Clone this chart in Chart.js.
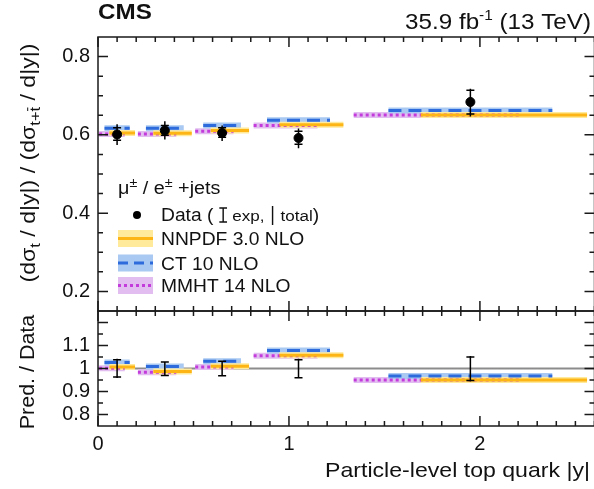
<!DOCTYPE html>
<html><head><meta charset="utf-8">
<script src="https://cdn.jsdelivr.net/npm/chart.js@4.4.0/dist/chart.umd.min.js"></script>
<style>
html,body{margin:0;padding:0;background:#fff;overflow:hidden;}
#wrap{position:relative;width:600px;height:489px;}
</style></head><body>
<div id="wrap"><canvas id="c"></canvas></div>
<script>
// ---------------- data ----------------
const binEdges   = [0, 0.2, 0.5, 0.8, 1.3, 2.6];
const binCenters = [0.1, 0.35, 0.65, 1.05, 1.95];

const dataVal   = [0.601, 0.611, 0.605, 0.592, 0.684];
const dataExpLo = [0.586, 0.599, 0.594, 0.576, 0.653];
const dataExpHi = [0.618, 0.624, 0.618, 0.609, 0.714];
const dataTotLo = [0.574, 0.588, 0.584, 0.566, 0.647];
const dataTotHi = [0.627, 0.635, 0.624, 0.616, 0.718];

const nnpdf = [0.605, 0.604, 0.611, 0.626, 0.651];
const ct10  = [0.617, 0.617, 0.624, 0.637, 0.662];
const mmht  = [0.602, 0.602, 0.609, 0.624, 0.651];

const ratioNnpdf = [1.007, 0.987, 1.010, 1.058, 0.950];
const ratioCt10  = [1.026, 1.009, 1.031, 1.078, 0.967];
const ratioMmht  = [1.001, 0.984, 1.007, 1.055, 0.950];

const ratioTotLo = [0.959, 0.966, 0.966, 0.956, 0.944];
const ratioTotHi = [1.042, 1.032, 1.035, 1.042, 1.054];
const ratioExpLo = [0.963, 0.970, 0.969, 0.960, 0.948];
const ratioExpHi = [1.038, 1.028, 1.032, 1.038, 1.050];

const xTicks      = [0, 1, 2];
const yMainTicks  = [0.2, 0.4, 0.6, 0.8];
const yRatioTicks = [0.8, 0.9, 1, 1.1];

// ---------------- style ----------------
const FONT = '"Liberation Sans", Arial, Helvetica, sans-serif';
const SX = 1.1; // horizontal text stretch of the reference
const COL = {
  nnpdf: {line: '#FDB515', band: '#FFE99A'},
  ct10:  {line: '#2D6BDC', band: '#A9C9F2'},
  mmht:  {line: '#C43BDB', band: '#E1BDF0'}
};
const segFrac = { mmht: [0.03, 0.70], ct10: [0.17, 0.83], nnpdf: [0.30, 0.97] };

function segments(values, frac) {
  const pts = [];
  values.forEach((v, i) => {
    const lo = binEdges[i], w = binEdges[i + 1] - lo;
    pts.push({x: lo + frac[0] * w, y: v}, {x: lo + frac[1] * w, y: v}, {x: lo + frac[1] * w, y: null});
  });
  return pts;
}
function segDs(values, frac, axis, color, width, dash, order) {
  return {type: 'line', data: segments(values, frac), yAxisID: axis, borderColor: color,
    borderWidth: width, borderDash: dash, pointRadius: 0, fill: false, spanGaps: false,
    order: order, borderCapStyle: 'butt', tension: 0};
}

const datasets = [
  {type: 'scatter', data: binCenters.map((x, i) => ({x: x, y: dataVal[i]})), yAxisID: 'y',
   pointRadius: 4.5, pointBackgroundColor: '#000', pointBorderColor: '#000', order: 0},
  // top panel
  segDs(nnpdf, segFrac.nnpdf, 'y', COL.nnpdf.line, 3, [], 1),
  segDs(ct10,  segFrac.ct10,  'y', COL.ct10.line, 3, [13, 7], 2),
  segDs(mmht,  segFrac.mmht,  'y', COL.mmht.line, 3, [3, 3], 3),
  segDs(nnpdf, segFrac.nnpdf, 'y', COL.nnpdf.band, 6, [], 4),
  segDs(ct10,  segFrac.ct10,  'y', COL.ct10.band, 6, [], 5),
  segDs(mmht,  segFrac.mmht,  'y', COL.mmht.band, 6, [], 6),
  // ratio panel
  segDs(ratioNnpdf, segFrac.nnpdf, 'yR', COL.nnpdf.line, 3, [], 1),
  segDs(ratioCt10,  segFrac.ct10,  'yR', COL.ct10.line, 3, [13, 7], 2),
  segDs(ratioMmht,  segFrac.mmht,  'yR', COL.mmht.line, 3, [3, 3], 3),
  segDs(ratioNnpdf, segFrac.nnpdf, 'yR', COL.nnpdf.band, 6, [], 4),
  segDs(ratioCt10,  segFrac.ct10,  'yR', COL.ct10.band, 6, [], 5),
  segDs(ratioMmht,  segFrac.mmht,  'yR', COL.mmht.band, 6, [], 6),
  {type: 'line', data: [{x: 0, y: 1}, {x: 2.6, y: 1}], yAxisID: 'yR', borderColor: '#8c8c8c',
   borderWidth: 2, pointRadius: 0, fill: false, order: 10}
];

// ---------------- helpers ----------------
function fnt(p) { return (p.bold ? 'bold ' : '') + p.size + 'px ' + FONT; }
function drawRich(ctx, parts, x, y, align, rot) {
  let w = 0;
  parts.forEach(p => {
    if (p.t !== undefined) { ctx.font = fnt(p); p.w = ctx.measureText(p.t).width; }
    w += p.w;
  });
  ctx.save();
  ctx.translate(x, y);
  if (rot) ctx.rotate(rot);
  ctx.scale(SX, 1);
  ctx.fillStyle = '#111'; ctx.strokeStyle = '#111'; ctx.textBaseline = 'alphabetic';
  let cx = align === 'right' ? -w : (align === 'center' ? -w / 2 : 0);
  parts.forEach(p => {
    const dy = p.dy || 0;
    if (p.t !== undefined) {
      ctx.font = fnt(p); ctx.fillText(p.t, cx, dy);
      if (p.bar) { ctx.lineWidth = 1; ctx.beginPath(); ctx.moveTo(cx + 0.5, dy - p.size * 0.82); ctx.lineTo(cx + p.w - 0.5, dy - p.size * 0.82); ctx.stroke(); }
    } else if (p.icon === 'ibeam') {
      ctx.lineWidth = 1.3; ctx.beginPath();
      const m = cx + p.w / 2;
      ctx.moveTo(m, -13); ctx.lineTo(m, 1);
      ctx.moveTo(m - 3.5, -13); ctx.lineTo(m + 3.5, -13);
      ctx.moveTo(m - 3.5, 1); ctx.lineTo(m + 3.5, 1);
      ctx.stroke();
    } else if (p.icon === 'vbar') {
      ctx.lineWidth = 1.3; ctx.beginPath();
      const m = cx + p.w / 2;
      ctx.moveTo(m, -15); ctx.lineTo(m, 4); ctx.stroke();
    }
    cx += p.w;
  });
  ctx.restore();
}

// ---------------- plugins ----------------
const frameTicks = {
  id: 'frameTicks',
  afterDraw(chart) {
    const ctx = chart.ctx, xs = chart.scales.x;
    const L = xs.left, R = xs.right;
    ctx.save();
    ctx.strokeStyle = '#1a1a1a'; ctx.lineWidth = 1.5;
    const panels = [
      {s: chart.scales.y, step: 0.05, majorEvery: 4},
      {s: chart.scales.yR, step: 0.05, majorEvery: 2}
    ];
    panels.forEach(pn => {
      const s = pn.s, T = s.top, B = s.bottom;
      ctx.strokeRect(L, T, R - L, B - T);
      ctx.beginPath();
      const k0 = Math.ceil(s.min / pn.step - 1e-6), k1 = Math.floor(s.max / pn.step + 1e-6);
      for (let k = k0; k <= k1; k++) {
        const py = s.getPixelForValue(k * pn.step);
        if (py <= T + 0.5 || py >= B - 0.5) continue;
        const len = (k % pn.majorEvery === 0) ? 10 : 5;
        ctx.moveTo(L, py); ctx.lineTo(L + len, py);
        ctx.moveTo(R, py); ctx.lineTo(R - len, py);
      }
      for (let k = 0; k <= 26; k++) {
        const px = xs.getPixelForValue(k * 0.1);
        const len = (k % 10 === 0) ? 10 : 5;
        ctx.moveTo(px, T); ctx.lineTo(px, T + len);
        ctx.moveTo(px, B); ctx.lineTo(px, B - len);
      }
      ctx.stroke();
    });
    ctx.restore();
  }
};

const errorBars = {
  id: 'errorBars',
  afterDatasetsDraw(chart) {
    const ctx = chart.ctx, xs = chart.scales.x;
    ctx.save();
    ctx.strokeStyle = '#000'; ctx.lineWidth = 1.5;
    const draw = (s, tlo, thi, elo, ehi) => {
      ctx.beginPath();
      binCenters.forEach((c, i) => {
        const px = xs.getPixelForValue(c);
        ctx.moveTo(px, s.getPixelForValue(tlo[i])); ctx.lineTo(px, s.getPixelForValue(thi[i]));
        [elo[i], ehi[i]].forEach(v => { const py = s.getPixelForValue(v); ctx.moveTo(px - 4, py); ctx.lineTo(px + 4, py); });
      });
      ctx.stroke();
    };
    draw(chart.scales.y, dataTotLo, dataTotHi, dataExpLo, dataExpHi);
    draw(chart.scales.yR, ratioTotLo, ratioTotHi, ratioExpLo, ratioExpHi);
    ctx.restore();
  }
};

const texts = {
  id: 'texts',
  afterDraw(chart) {
    const ctx = chart.ctx;
    // header
    drawRich(ctx, [{t: 'CMS', size: 22, bold: true}], 98, 19, 'left');
    drawRich(ctx, [{t: '35.9 fb', size: 22}, {t: '-1', size: 14, dy: -9}, {t: ' (13 TeV)', size: 22}], 591, 29, 'right');
    // axis titles
    drawRich(ctx, [{t: 'Particle-level top quark |y|', size: 21}], 590, 477, 'right');
    drawRich(ctx, [
      {t: '(d\u03C3', size: 21}, {t: 't', size: 15, dy: 5}, {t: ' / d|y|) / (d\u03C3', size: 21},
      {t: 't+', size: 15, dy: 5}, {t: 't', size: 15, dy: 5, bar: true}, {t: ' / d|y|)', size: 21}
    ], 35, 163, 'center', -Math.PI / 2);
    drawRich(ctx, [{t: 'Pred. / Data', size: 19.5}], 34, 372, 'center', -Math.PI / 2);
    // legend
    drawRich(ctx, [{t: '\u03BC', size: 18}, {t: '\u00B1', size: 13, dy: -7}, {t: ' / e', size: 18},
      {t: '\u00B1', size: 13, dy: -7}, {t: ' +jets', size: 18}], 118, 194, 'left');
    ctx.save();
    ctx.fillStyle = '#000'; ctx.beginPath(); ctx.arc(137, 215, 4, 0, Math.PI * 2); ctx.fill();
    ctx.restore();
    drawRich(ctx, [{t: 'Data ( ', size: 17.5}, {icon: 'ibeam', w: 8}, {t: ' exp, ', size: 15.5},
      {icon: 'vbar', w: 6}, {t: ' total', size: 15.5}, {t: ')', size: 17.5}], 161, 221, 'left');
    const rows = [
      {k: 'nnpdf', label: 'NNPDF 3.0 NLO', y: 238.5, dash: []},
      {k: 'ct10', label: 'CT 10 NLO', y: 263, dash: [10, 6]},
      {k: 'mmht', label: 'MMHT 14 NLO', y: 285.5, dash: [3, 3]}
    ];
    rows.forEach(r => {
      ctx.save();
      ctx.fillStyle = COL[r.k].band; ctx.fillRect(118, r.y - 8.5, 35, 17);
      ctx.strokeStyle = COL[r.k].line; ctx.lineWidth = 3; ctx.setLineDash(r.dash);
      ctx.beginPath(); ctx.moveTo(118, r.y); ctx.lineTo(153, r.y); ctx.stroke();
      ctx.restore();
      drawRich(ctx, [{t: r.label, size: 17.5}], 161, r.y + 6.5, 'left');
    });
  }
};

// ---------------- chart ----------------
const tickFont = {family: FONT, size: 20};
new Chart(document.getElementById('c'), {
  type: 'line',
  data: {datasets: datasets},
  options: {
    responsive: true, maintainAspectRatio: false, animation: false, events: [],
    layout: {padding: {top: 37, right: 4, bottom: 0, left: 0}},
    plugins: {legend: {display: false}, tooltip: {enabled: false}},
    scales: {
      x: {type: 'linear', min: 0, max: 2.6,
        grid: {display: false, drawTicks: false}, border: {display: false},
        ticks: {font: tickFont, color: '#111', padding: 6, maxRotation: 0, autoSkip: false, callback: v => String(v)},
        afterBuildTicks: s => { s.ticks = xTicks.map(v => ({value: v})); },
        afterFit: s => { s.height = 63; }},
      y: {type: 'linear', position: 'left', stack: 'p', stackWeight: 274, weight: 2, min: 0.15, max: 0.85,
        grid: {display: false, drawTicks: false}, border: {display: false},
        ticks: {font: tickFont, color: '#111', padding: 8, autoSkip: false, callback: v => String(v)},
        afterBuildTicks: s => { s.ticks = yMainTicks.map(v => ({value: v})); },
        afterFit: s => { s.width = 98; }},
      yR: {type: 'linear', position: 'left', stack: 'p', stackWeight: 115, weight: 1, min: 0.75, max: 1.25,
        grid: {display: false, drawTicks: false}, border: {display: false},
        ticks: {font: tickFont, color: '#111', padding: 8, autoSkip: false, callback: v => String(v)},
        afterBuildTicks: s => { s.ticks = yRatioTicks.map(v => ({value: v})); },
        afterFit: s => { s.width = 98; }}
    }
  },
  plugins: [frameTicks, errorBars, texts]
});
</script>
</body></html>
